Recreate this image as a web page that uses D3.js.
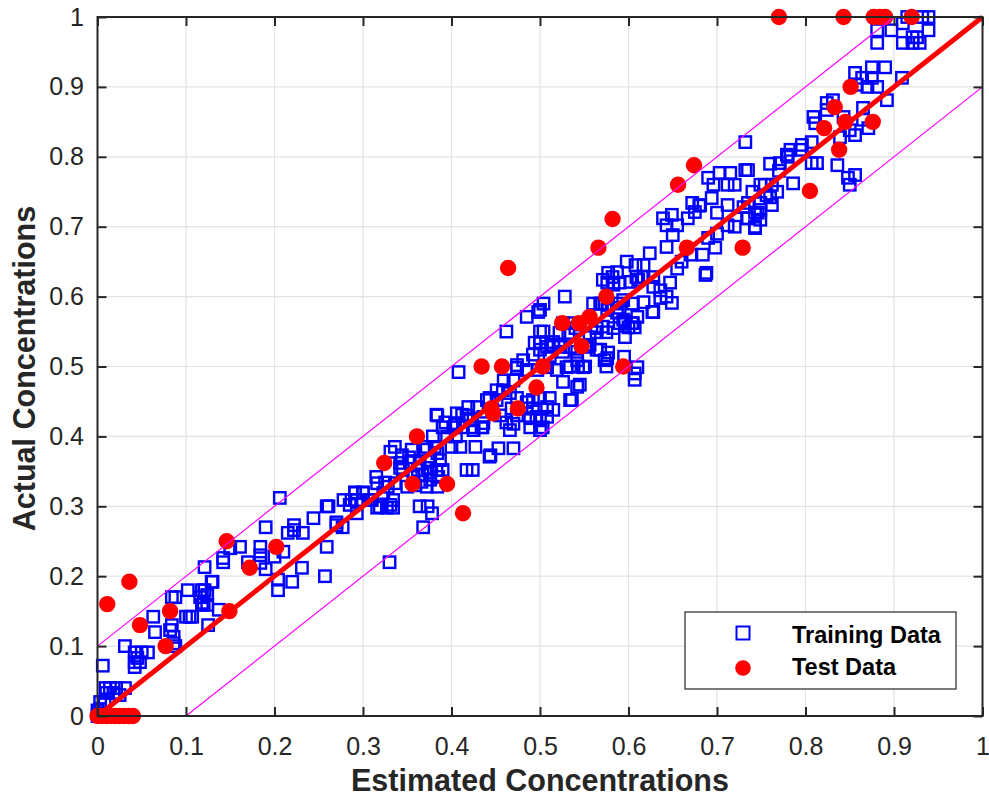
<!DOCTYPE html>
<html>
<head>
<meta charset="utf-8">
<script src="https://cdn.jsdelivr.net/npm/d3@7"></script>
<style>
    body { margin: 0; background: #fff; }
    svg { display: block; font-family: "Liberation Sans", Arial, sans-serif; }
</style>
</head>
<body>
<div id="chart"></div>
<script>
(function () {
    'use strict';

    // training set
    var trainX = [
        0.000, 0.005, 0.010, 0.015, 0.003, 0.000, 0.003, 0.008, 0.006, 0.009, 0.014, 0.021, 0.031, 0.010, 0.018, 0.025,
        0.031, 0.042, 0.050, 0.057, 0.042, 0.048, 0.042, 0.045, 0.063, 0.065, 0.084, 0.082, 0.086, 0.088, 0.088, 0.102,
        0.118, 0.124, 0.120, 0.100, 0.107, 0.125, 0.121, 0.129, 0.142, 0.150, 0.161, 0.184, 0.184, 0.184, 0.200, 0.210,
        0.231, 0.257, 0.204, 0.204, 0.220, 0.190, 0.222, 0.222, 0.215, 0.232, 0.270, 0.259, 0.206, 0.259, 0.244, 0.137,
        0.118, 0.124, 0.121, 0.130, 0.142, 0.116, 0.104, 0.086, 0.084, 0.170, 0.190,
        0.261, 0.270, 0.277, 0.278, 0.287, 0.291, 0.300, 0.293, 0.308, 0.316, 0.327, 0.334, 0.315, 0.325, 0.323, 0.291,
        0.300, 0.310, 0.319, 0.331, 0.334, 0.285, 0.293, 0.364, 0.373, 0.378, 0.368, 0.330, 0.316, 0.328, 0.336, 0.350,
        0.359, 0.372, 0.384, 0.357, 0.367, 0.376, 0.385, 0.342, 0.353, 0.364, 0.376, 0.387, 0.331, 0.344, 0.355, 0.370,
        0.384, 0.336, 0.342, 0.373, 0.372, 0.381, 0.400, 0.410, 0.427, 0.453, 0.470, 0.444, 0.417, 0.383, 0.390, 0.376,
        0.366, 0.379, 0.383, 0.393, 0.404, 0.413, 0.425, 0.434, 0.390, 0.402, 0.424, 0.435, 0.384, 0.406, 0.417, 0.419,
        0.429, 0.440, 0.451, 0.451, 0.458, 0.436, 0.421, 0.412, 0.436, 0.446, 0.468, 0.485, 0.492, 0.470, 0.489, 0.500,
        0.503, 0.489, 0.466, 0.500, 0.474, 0.496, 0.508, 0.515, 0.508, 0.443, 0.424, 0.459, 0.470, 0.474, 0.408, 0.462,
        0.485, 0.500, 0.500, 0.500, 0.500, 0.443, 0.466, 0.474, 0.485, 0.492, 0.500, 0.511, 0.534, 0.526, 0.542, 0.536,
        0.545, 0.345, 0.352, 0.362, 0.395, 0.405, 0.455, 0.462,
        0.481, 0.474, 0.485, 0.497, 0.508, 0.519, 0.530, 0.542, 0.549, 0.526, 0.511, 0.492, 0.500, 0.508, 0.515, 0.523,
        0.534, 0.542, 0.553, 0.564, 0.576, 0.494, 0.515, 0.528, 0.504, 0.498, 0.504, 0.522, 0.532, 0.526, 0.534, 0.540,
        0.545, 0.556, 0.564, 0.571, 0.583, 0.596, 0.564, 0.575, 0.600, 0.607, 0.534, 0.543, 0.551, 0.573, 0.556, 0.568,
        0.595, 0.607, 0.610, 0.607, 0.577, 0.575,
        0.560, 0.570, 0.568, 0.577, 0.587, 0.594, 0.605, 0.617, 0.627, 0.587, 0.596, 0.604, 0.610, 0.590, 0.576, 0.590,
        0.594, 0.605, 0.571, 0.577, 0.587, 0.598, 0.608, 0.617, 0.624, 0.583, 0.590, 0.602, 0.609, 0.617, 0.628, 0.628,
        0.636, 0.647, 0.636, 0.643, 0.628, 0.649, 0.576, 0.582, 0.611, 0.643, 0.650, 0.643, 0.655, 0.667, 0.675, 0.681,
        0.672, 0.639, 0.649, 0.694, 0.712, 0.690, 0.698, 0.684, 0.687, 0.712, 0.735, 0.743, 0.746, 0.749, 0.696, 0.712,
        0.749, 0.756, 0.660, 0.670, 0.655, 0.700, 0.700, 0.688, 0.720, 0.703, 0.715, 0.690, 0.680, 0.720, 0.740, 0.760,
        0.770, 0.780,
        0.732, 0.732, 0.735, 0.730, 0.735, 0.734, 0.743, 0.743, 0.749, 0.749, 0.754, 0.762, 0.760, 0.768, 0.762, 0.771,
        0.779, 0.783, 0.786, 0.796, 0.807, 0.807, 0.813, 0.794, 0.809, 0.811, 0.824, 0.824, 0.831, 0.836, 0.848, 0.850,
        0.856, 0.843, 0.856, 0.850, 0.865, 0.871, 0.865, 0.839, 0.856, 0.858, 0.864, 0.870, 0.875, 0.881, 0.890, 0.892,
        0.909, 0.875, 0.881, 0.881, 0.897, 0.910, 0.910, 0.921, 0.921, 0.929, 0.926, 0.939, 0.939, 0.915, 0.932
    ];
    var trainY = [
        0.000, 0.000, 0.000, 0.000, 0.010, 0.008, 0.020, 0.020, 0.072, 0.040, 0.040, 0.040, 0.040, 0.033, 0.033, 0.030,
        0.100, 0.091, 0.091, 0.091, 0.077, 0.077, 0.070, 0.083, 0.142, 0.120, 0.130, 0.123, 0.113, 0.100, 0.170, 0.180,
        0.180, 0.173, 0.162, 0.142, 0.142, 0.130, 0.213, 0.192, 0.226, 0.240, 0.242, 0.242, 0.230, 0.219, 0.228, 0.235,
        0.212, 0.200, 0.195, 0.180, 0.192, 0.270, 0.273, 0.266, 0.262, 0.262, 0.273, 0.242, 0.312, 0.300, 0.283, 0.152,
        0.159, 0.159, 0.180, 0.192, 0.220, 0.170, 0.142, 0.104, 0.170, 0.220, 0.210,
        0.300, 0.277, 0.270, 0.309, 0.309, 0.319, 0.319, 0.309, 0.309, 0.298, 0.298, 0.298, 0.342, 0.334, 0.319, 0.320,
        0.320, 0.309, 0.299, 0.302, 0.309, 0.302, 0.290, 0.300, 0.300, 0.290, 0.270, 0.220, 0.333, 0.328, 0.333, 0.328,
        0.330, 0.328, 0.328, 0.342, 0.345, 0.348, 0.342, 0.362, 0.363, 0.362, 0.366, 0.366, 0.378, 0.373, 0.381, 0.381,
        0.376, 0.385, 0.355, 0.355, 0.385, 0.385, 0.385, 0.385, 0.385, 0.383, 0.383, 0.373, 0.352, 0.352, 0.352, 0.338,
        0.335, 0.400, 0.431, 0.420, 0.419, 0.413, 0.409, 0.413, 0.413, 0.413, 0.413, 0.413, 0.430, 0.433, 0.430, 0.442,
        0.442, 0.452, 0.452, 0.466, 0.466, 0.419, 0.423, 0.431, 0.428, 0.438, 0.440, 0.440, 0.440, 0.418, 0.426, 0.423,
        0.413, 0.413, 0.409, 0.409, 0.430, 0.428, 0.428, 0.438, 0.442, 0.371, 0.352, 0.480, 0.480, 0.502, 0.492, 0.550,
        0.571, 0.581, 0.550, 0.534, 0.524, 0.455, 0.462, 0.455, 0.449, 0.452, 0.455, 0.455, 0.452, 0.478, 0.471, 0.452,
        0.474, 0.352, 0.370, 0.352, 0.400, 0.400, 0.430, 0.420,
        0.509, 0.498, 0.495, 0.495, 0.499, 0.495, 0.499, 0.509, 0.499, 0.521, 0.514, 0.517, 0.535, 0.528, 0.535, 0.528,
        0.528, 0.521, 0.528, 0.524, 0.512, 0.534, 0.531, 0.600, 0.590, 0.578, 0.550, 0.548, 0.548, 0.562, 0.562, 0.555,
        0.560, 0.542, 0.555, 0.557, 0.555, 0.542, 0.549, 0.549, 0.556, 0.556, 0.500, 0.500, 0.500, 0.509, 0.531, 0.524,
        0.514, 0.490, 0.499, 0.481, 0.520, 0.500,
        0.590, 0.590, 0.590, 0.588, 0.590, 0.595, 0.590, 0.592, 0.578, 0.577, 0.564, 0.562, 0.571, 0.562, 0.581, 0.584,
        0.567, 0.562, 0.624, 0.634, 0.635, 0.650, 0.645, 0.645, 0.662, 0.617, 0.620, 0.621, 0.628, 0.628, 0.628, 0.614,
        0.609, 0.620, 0.598, 0.600, 0.578, 0.591, 0.620, 0.628, 0.624, 0.671, 0.688, 0.702, 0.702, 0.712, 0.721, 0.731,
        0.734, 0.712, 0.717, 0.741, 0.731, 0.684, 0.670, 0.660, 0.631, 0.702, 0.712, 0.698, 0.720, 0.734, 0.760, 0.760,
        0.760, 0.745, 0.650, 0.660, 0.640, 0.690, 0.720, 0.634, 0.700, 0.777, 0.777, 0.770, 0.730, 0.760, 0.750, 0.790,
        0.780, 0.800,
        0.821, 0.781, 0.781, 0.728, 0.734, 0.712, 0.700, 0.720, 0.724, 0.710, 0.760, 0.760, 0.742, 0.750, 0.731, 0.791,
        0.803, 0.810, 0.762, 0.817, 0.821, 0.791, 0.791, 0.810, 0.857, 0.848, 0.877, 0.867, 0.881, 0.788, 0.770, 0.760,
        0.774, 0.857, 0.831, 0.838, 0.870, 0.841, 0.853, 0.828, 0.920, 0.903, 0.913, 0.900, 0.928, 0.900, 0.928, 0.881,
        0.913, 0.913, 0.981, 0.963, 0.981, 0.991, 0.963, 0.971, 0.963, 0.963, 0.971, 1.000, 0.981, 1.000, 1.000
    ];

    // test set
    var testX = [
        0.000, 0.005, 0.010, 0.015, 0.020, 0.025, 0.030, 0.035, 0.040,
        0.011, 0.036, 0.048, 0.077, 0.082, 0.146, 0.149, 0.172, 0.202, 0.324, 0.356, 0.361, 0.395, 0.413, 0.434, 0.447,
        0.445, 0.457, 0.464, 0.475, 0.496, 0.503, 0.525, 0.544, 0.556, 0.547, 0.566, 0.575, 0.582, 0.594, 0.656, 0.666,
        0.674, 0.729, 0.770, 0.805, 0.821, 0.833, 0.838, 0.845, 0.843, 0.851, 0.876, 0.877, 0.884, 0.890, 0.920
    ];
    var testY = [
        0.000, 0.000, 0.000, 0.000, 0.000, 0.000, 0.000, 0.000, 0.000,
        0.160, 0.192, 0.130, 0.100, 0.150, 0.250, 0.150, 0.212, 0.242, 0.362, 0.332, 0.400, 0.332, 0.290, 0.500, 0.433,
        0.440, 0.500, 0.641, 0.440, 0.470, 0.500, 0.562, 0.562, 0.571, 0.529, 0.670, 0.600, 0.711, 0.500, 0.760, 0.670,
        0.788, 0.670, 1.000, 0.751, 0.841, 0.871, 0.810, 0.850, 1.000, 0.900, 0.850, 1.000, 1.000, 1.000, 1.000
    ];

    var tickValues = [0, 0.1, 0.2, 0.3, 0.4, 0.5, 0.6, 0.7, 0.8, 0.9, 1];
    var bandOffset = 0.1;
    var seriesNames = ['Training Data', 'Test Data'];

    var WIDTH = 989;
    var HEIGHT = 802;
    var LEFT = 97.5, RIGHT = 982.5, TOP = 17, BOTTOM = 716;
    var INK = '#262626';
    var SQ = 11.4;

    var svg = d3.select('#chart')
        .append('svg')
        .attr('width', WIDTH)
        .attr('height', HEIGHT);

    var x = d3.scaleLinear().domain([0, 1]).range([LEFT, RIGHT]);
    var y = d3.scaleLinear().domain([0, 1]).range([BOTTOM, TOP]);

    drawGrid();
    drawTraining();
    drawTest();
    drawLines();
    drawAxes();
    drawLabels();
    drawLegend();

    function drawGrid() {
        var g = svg.append('g').attr('class', 'grid');
        g.selectAll('line.gx')
            .data(tickValues.slice(1, -1))
            .enter().append('line')
            .attr('x1', function (d) { return x(d); })
            .attr('x2', function (d) { return x(d); })
            .attr('y1', TOP).attr('y2', BOTTOM)
            .attr('stroke', '#e3e3e3').attr('stroke-width', 1.2);
        g.selectAll('line.gy')
            .data(tickValues.slice(1, -1))
            .enter().append('line')
            .attr('y1', function (d) { return y(d); })
            .attr('y2', function (d) { return y(d); })
            .attr('x1', LEFT).attr('x2', RIGHT)
            .attr('stroke', '#e3e3e3').attr('stroke-width', 1.2);
    }

    function drawTraining() {
        svg.append('g').selectAll('rect')
            .data(d3.range(trainX.length))
            .enter().append('rect')
            .attr('x', function (i) { return x(trainX[i]) - SQ / 2; })
            .attr('y', function (i) { return y(trainY[i]) - SQ / 2; })
            .attr('width', SQ)
            .attr('height', SQ)
            .attr('fill', 'none')
            .attr('stroke', '#0000ff')
            .attr('stroke-width', 2.4);
    }

    function drawTest() {
        svg.append('g').selectAll('circle')
            .data(d3.range(testX.length))
            .enter().append('circle')
            .attr('cx', function (i) { return x(testX[i]); })
            .attr('cy', function (i) { return y(testY[i]); })
            .attr('r', 8.2)
            .attr('fill', '#ff0000');
    }

    function drawLines() {
        var line = d3.line()
            .x(function (d) { return x(d[0]); })
            .y(function (d) { return y(d[1]); });
        var upper = [[0, bandOffset], [1 - bandOffset, 1]];
        var lower = [[bandOffset, 0], [1, 1 - bandOffset]];
        svg.append('path').datum([[0, 0], [1, 1]])
            .attr('d', line).attr('fill', 'none')
            .attr('stroke', '#ff0000').attr('stroke-width', 5);
        [upper, lower].forEach(function (pts) {
            svg.append('path').datum(pts)
                .attr('d', line).attr('fill', 'none')
                .attr('stroke', '#ff00ff').attr('stroke-width', 1.2);
        });
    }

    function drawAxes() {
        var fmt = function (d) { return d === 0 || d === 1 ? String(d) : d3.format('.1f')(d); };

        var bottom = svg.append('g')
            .attr('transform', 'translate(0,' + BOTTOM + ')')
            .call(d3.axisBottom(x).tickValues(tickValues).tickFormat(fmt).tickSize(-9).tickPadding(21));
        var left = svg.append('g')
            .attr('transform', 'translate(' + LEFT + ',0)')
            .call(d3.axisLeft(y).tickValues(tickValues).tickFormat(fmt).tickSize(-9).tickPadding(13.5));
        var top = svg.append('g')
            .attr('transform', 'translate(0,' + TOP + ')')
            .call(d3.axisTop(x).tickValues(tickValues).tickFormat('').tickSize(-9));
        var right = svg.append('g')
            .attr('transform', 'translate(' + RIGHT + ',0)')
            .call(d3.axisRight(y).tickValues(tickValues).tickFormat('').tickSize(-9));

        [bottom, left, top, right].forEach(function (g) {
            g.select('.domain').remove();
            g.selectAll('.tick line').attr('stroke', INK).attr('stroke-width', 2);
            g.selectAll('.tick text')
                .attr('fill', INK)
                .attr('font-size', 25)
                .attr('font-family', '"Liberation Sans", Arial, sans-serif');
        });

        svg.append('rect')
            .attr('x', LEFT).attr('y', TOP)
            .attr('width', RIGHT - LEFT).attr('height', BOTTOM - TOP)
            .attr('fill', 'none')
            .attr('stroke', INK)
            .attr('stroke-width', 2);
    }

    function drawLabels() {
        svg.append('text')
            .text('Estimated Concentrations')
            .attr('x', (LEFT + RIGHT) / 2)
            .attr('y', 791)
            .attr('text-anchor', 'middle')
            .attr('font-size', 30.5)
            .attr('font-weight', 'bold')
            .attr('fill', INK);
        svg.append('text')
            .text('Actual Concentrations')
            .attr('transform', 'translate(35,' + ((TOP + BOTTOM) / 2 + 2) + ') rotate(-90)')
            .attr('text-anchor', 'middle')
            .attr('font-size', 30.5)
            .attr('font-weight', 'bold')
            .attr('fill', INK);
    }

    function drawLegend() {
        var g = svg.append('g');
        g.append('rect')
            .attr('x', 685).attr('y', 612)
            .attr('width', 271).attr('height', 77)
            .attr('fill', '#fff')
            .attr('stroke', INK)
            .attr('stroke-width', 1.2);
        g.append('rect')
            .attr('x', 743 - 6.5).attr('y', 633 - 6.5)
            .attr('width', 13).attr('height', 13)
            .attr('fill', 'none')
            .attr('stroke', '#0000ff')
            .attr('stroke-width', 2);
        g.append('circle')
            .attr('cx', 743).attr('cy', 668)
            .attr('r', 7.8)
            .attr('fill', '#ff0000');
        g.selectAll('text')
            .data(seriesNames)
            .enter().append('text')
            .text(function (d) { return d; })
            .attr('x', 792)
            .attr('y', function (d, i) { return 643 + i * 32; })
            .attr('font-size', 23.5)
            .attr('font-weight', 'bold')
            .attr('fill', '#000');
    }
})();
</script>
</body>
</html>
